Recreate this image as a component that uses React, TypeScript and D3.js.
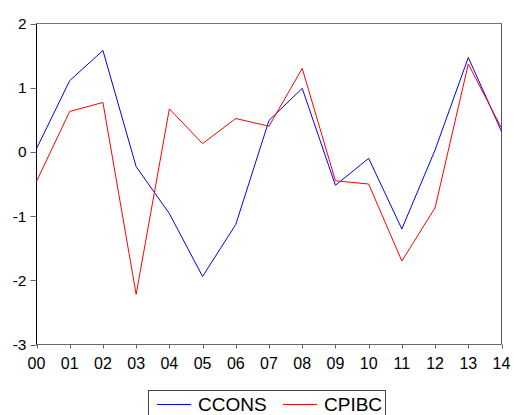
import React from "react";
import * as d3 from "d3";

const years = ["00","01","02","03","04","05","06","07","08","09","10","11","12","13","14"];
const ccons = [0.05, 1.11, 1.58, -0.23, -0.96, -1.94, -1.13, 0.49, 0.99, -0.52, -0.10, -1.20, 0.03, 1.47, 0.32];
const cpibc = [-0.46, 0.63, 0.77, -2.22, 0.67, 0.13, 0.52, 0.40, 1.30, -0.45, -0.50, -1.70, -0.87, 1.37, 0.37];
const yTicks = [2, 1, 0, -1, -2, -3];
const seriesNames = ["CCONS", "CPIBC"];
const seriesColors = ["#0000ff", "#ff0000"];

export default function App() {
  const W = 514, H = 415;
  const left = 36.5, right = 501.5, top = 23.5, bottom = 344.5;
  const x = d3.scalePoint<string>().domain(years).range([left, right]);
  const y = d3.scaleLinear().domain([-3, 2]).range([bottom, top]);
  const line = d3.line<number>().x((_, i) => x(years[i]) as number).y(d => y(d));
  const font = "'Liberation Sans', Arial, sans-serif";
  const data = [ccons, cpibc];
  return (
    <svg width={W} height={H} style={{ position: "absolute", left: 0, top: 0, background: "#fff" }} fontFamily={font}>
      <rect x={0} y={0} width={W} height={H} fill="#fff" />
      {/* frame */}
      <line x1={left} x2={right} y1={top} y2={top} stroke="#777" />
      <line x1={right} x2={right} y1={top} y2={bottom} stroke="#555" />
      <line x1={left} x2={right} y1={bottom} y2={bottom} stroke="#666" />
      <line x1={left} x2={left} y1={top} y2={bottom} stroke="#000" />
      {/* y ticks */}
      {yTicks.map(t => (
        <g key={t}>
          <line x1={left - 6} x2={left} y1={Math.round(y(t)) + 0.5} y2={Math.round(y(t)) + 0.5} stroke="#666" />
          <text x={left - 10} y={y(t)} dy="0.36em" textAnchor="end" fontSize={15.5} fill="#000">{t < 0 ? "-" + Math.abs(t) : t}</text>
        </g>
      ))}
      {/* x ticks */}
      {years.map(yr => (
        <g key={yr}>
          <line x1={Math.round(x(yr) as number) + 0.5} x2={Math.round(x(yr) as number) + 0.5} y1={bottom} y2={bottom + 4} stroke="#666" />
          <text x={x(yr) as number} y={bottom + 24.5} textAnchor="middle" fontSize={16} fill="#000">{yr}</text>
        </g>
      ))}
      {/* series */}
      {data.map((d, i) => (
        <path key={i} d={line(d) || ""} fill="none" stroke={seriesColors[i]} strokeWidth={1} />
      ))}
      {/* legend */}
      <rect x={148.5} y={390.5} width={237} height={40} fill="#fff" stroke="#444" />
      {seriesNames.map((n, i) => {
        const lx = i === 0 ? 157 : 283;
        return (
          <g key={n}>
            <line x1={lx} x2={lx + 34} y1={404.5} y2={404.5} stroke={seriesColors[i]} />
            <text x={lx + 41} y={410.5} fontSize={19} fill="#000">{n}</text>
          </g>
        );
      })}
    </svg>
  );
}
